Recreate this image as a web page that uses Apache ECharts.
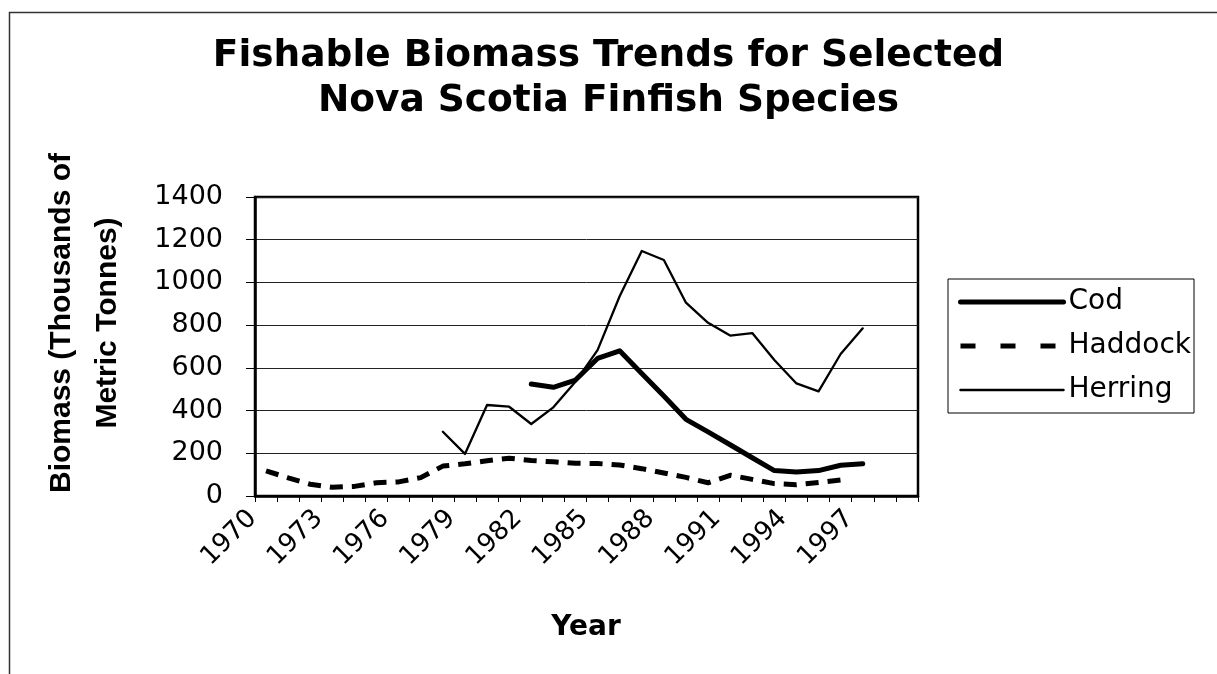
<!DOCTYPE html>
<html>
<head>
<meta charset="utf-8">
<title>Fishable Biomass Trends</title>
<script src="https://cdn.jsdelivr.net/npm/echarts@6/dist/echarts.min.js"></script>
<style>
  html, body { margin: 0; padding: 0; background: #fff; }
  #chart { width: 1217px; height: 674px; }
</style>
</head>
<body>
<div id="chart"></div>
<script>
// Survey years on the category axis
const years = [];
for (let y = 1970; y <= 1999; y++) years.push(String(y));

// Fishable biomass, thousands of metric tonnes (null = no estimate)
const cod = [
  null, null, null, null, null, null, null, null, null, null, null, null,
  524, 509, 543, 644, 680, 574, 468, 359, 300, 240, 179, 119, 112, 119, 144, 151,
  null, null
];
const haddock = [
  118, 85, 55, 41, 45, 62, 66, 86, 140, 151, 165, 177, 166, 160, 153, 152,
  145, 128, 108, 87, 62, 97, 78, 58, 53, 63, 75,
  null, null, null
];
const herring = [
  null, null, null, null, null, null, null, null,
  301, 197, 426, 418, 337, 415, 535, 683, 935, 1147, 1105, 905, 811, 751, 763,
  637, 527, 490, 665, 785,
  null, null
];

const seriesNames = ['Cod', 'Haddock', 'Herring'];
const titleLines = ['Fishable Biomass Trends for Selected', 'Nova Scotia Finfish Species'];
const yTitleLines = ['Biomass (Thousands of', 'Metric Tonnes)'];
const xTitle = 'Year';

const SANS = '"DejaVu Sans", sans-serif';
const ARIAL = '"Liberation Sans", Arial, sans-serif';

const chart = echarts.init(document.getElementById('chart'), null, { renderer: 'canvas' });

chart.setOption({
  backgroundColor: '#fff',
  animation: false,
  title: {
    text: titleLines.join('\n'),
    left: 'center',
    top: 34,
    padding: 0,
    textStyle: {
      fontFamily: SANS,
      fontWeight: 'bold',
      fontSize: 37.5,
      lineHeight: 45,
      color: '#000'
    }
  },
  legend: {
    orient: 'vertical',
    left: 948,
    top: 279,
    padding: [9, 3, 9, 10],
    itemWidth: 103,
    itemHeight: 20,
    itemGap: 16,
    itemTextGap: 7,
    borderColor: '#000',
    borderWidth: 1,
    itemStyle: { opacity: 0 },
    textStyle: { fontFamily: SANS, fontSize: 28, color: '#000' },
    data: [
      { name: seriesNames[0], lineStyle: { width: 5, cap: 'round' } },
      { name: seriesNames[1], lineStyle: { width: 5, type: [15, 25] } },
      { name: seriesNames[2], lineStyle: { width: 2.5 } }
    ]
  },
  grid: {
    left: 255,
    top: 197,
    right: 299,
    bottom: 178,
    show: true,
    borderColor: '#000',
    borderWidth: 2.5,
    backgroundColor: '#fff'
  },
  xAxis: {
    type: 'category',
    data: years,
    boundaryGap: true,
    axisLine: { lineStyle: { color: '#000', width: 2.5 } },
    axisTick: { show: true, interval: 0, length: 6, lineStyle: { color: '#000', width: 1 } },
    axisLabel: {
      interval: 2,
      rotate: 45,
      margin: 5,
      padding: [0, 19, 0, 0],
      fontFamily: SANS,
      fontSize: 26,
      color: '#000'
    },
    splitLine: { show: false }
  },
  yAxis: {
    type: 'value',
    min: 0,
    max: 1400,
    interval: 200,
    axisLine: { show: true, lineStyle: { color: '#000', width: 2.5 } },
    axisTick: { show: true, length: 9, lineStyle: { color: '#000', width: 1 } },
    axisLabel: {
      margin: 32,
      fontFamily: SANS,
      fontSize: 27,
      color: '#000',
      formatter: (v) => String(v)
    },
    splitLine: { show: true, lineStyle: { color: '#222', width: 1 } }
  },
  series: [
    {
      name: seriesNames[0],
      type: 'line',
      data: cod,
      symbol: 'none',
      showSymbol: false,
      lineStyle: { color: '#000', width: 5, cap: 'round', join: 'round' },
      itemStyle: { color: '#000' },
      z: 4
    },
    {
      name: seriesNames[1],
      type: 'line',
      data: haddock,
      symbol: 'none',
      showSymbol: false,
      lineStyle: { color: '#000', width: 5, type: [13, 9], join: 'round' },
      itemStyle: { color: '#000' },
      z: 3
    },
    {
      name: seriesNames[2],
      type: 'line',
      data: herring,
      symbol: 'none',
      showSymbol: false,
      lineStyle: { color: '#000', width: 2.3, cap: 'round', join: 'round' },
      itemStyle: { color: '#000' },
      z: 3
    }
  ],
  graphic: [
    {
      // outer chart frame
      type: 'rect',
      shape: { x: 9.5, y: 12.5, width: 1300, height: 800 },
      style: { fill: null, stroke: '#333', lineWidth: 1.5 },
      silent: true,
      z: -10
    },
    {
      type: 'text',
      x: 85,
      y: 323,
      rotation: Math.PI / 2,
      style: {
        text: yTitleLines.join('\n'),
        fontFamily: ARIAL,
        fontWeight: 'bold',
        fontSize: 30,
        lineHeight: 46,
        fill: '#000',
        align: 'center',
        verticalAlign: 'middle'
      }
    },
    {
      type: 'text',
      x: 586,
      y: 628,
      style: {
        text: xTitle,
        fontFamily: SANS,
        fontWeight: 'bold',
        fontSize: 28,
        fill: '#000',
        align: 'center',
        verticalAlign: 'middle'
      }
    }
  ]
});
</script>
</body>
</html>
